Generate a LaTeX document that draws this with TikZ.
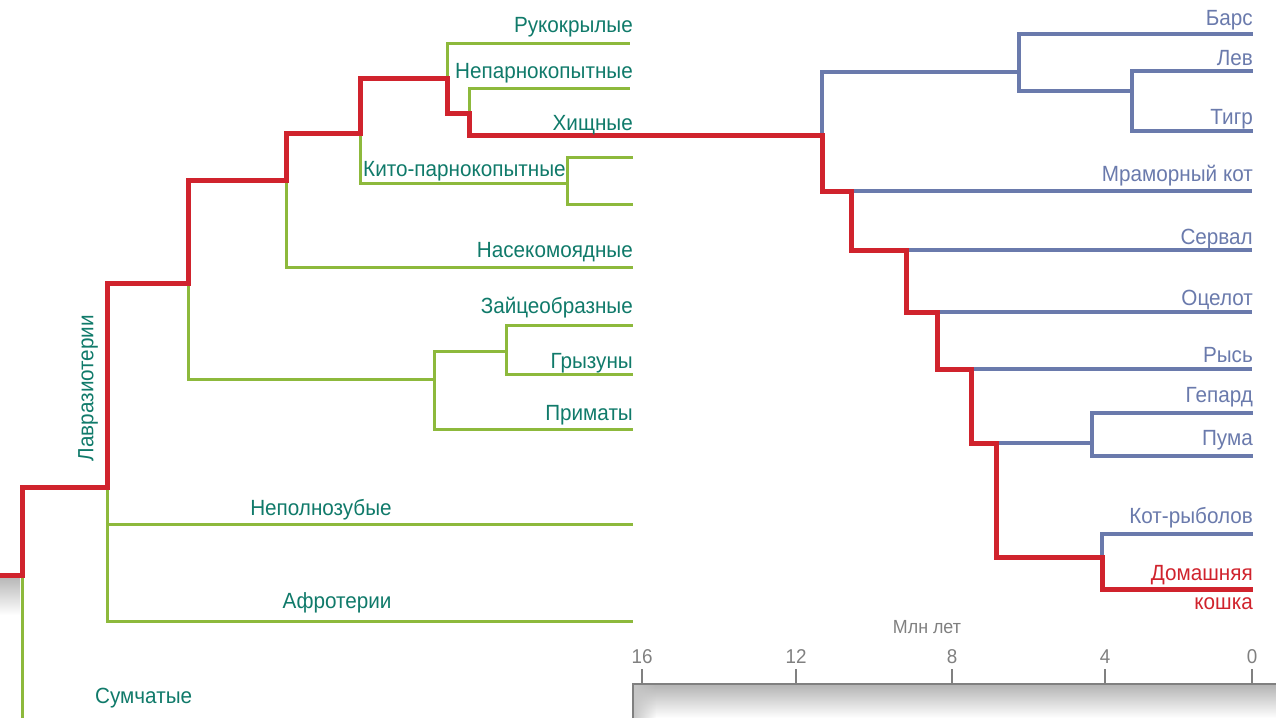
\documentclass[tikz,border=0pt]{standalone}
\usepackage{fontspec}
\setmainfont{Liberation Sans}[FakeStretch=0.94]
\usepackage{xcolor}
\usetikzlibrary{fadings}

\definecolor{leafgreen}{RGB}{141,185,60}
\definecolor{tealtext}{RGB}{16,122,106}
\definecolor{lineagered}{RGB}{208,35,45}
\definecolor{catblue}{RGB}{106,122,172}
\definecolor{scalegray}{RGB}{128,128,128}

\begin{document}
\begin{tikzpicture}[x=1pt, y=-1pt,
    thu/.style={draw=leafgreen, line width=3pt},
    meo/.style={draw=catblue, line width=4pt},
    tien/.style={draw=lineagered, line width=5pt},
    nhan/.style={anchor=base east, inner sep=0pt, text=tealtext,
                 font=\fontsize{22}{26}\selectfont},
    meonhan/.style={nhan, text=catblue},
    so/.style={anchor=base, inner sep=0pt, text=scalegray,
               font=\fontsize{20}{24}\selectfont}]
    \useasboundingbox (0,0) rectangle (1276,718);

    % 1. Nền xám
    \shade[top color=gray!55, bottom color=white] (0,578) rectangle (20,615);
    \shade[top color=gray!60, bottom color=white] (633,684) rectangle (1276,718);
    \fill[gray!45, path fading=east] (633,684) rectangle (656,718);
    \draw[scalegray, line width=2.5pt] (633,718) -- (633,684) -- (1276,684);

    % 2. Các điểm rẽ nhánh
    \coordinate (goc) at (0,575);
    \coordinate (j0) at (22,575);
    \coordinate (sum) at (22,718);
    \coordinate (lav) at (107,487);
    \coordinate (nepl) at (633,524);
    \coordinate (afro) at (633,621);
    \coordinate (j2) at (188,283);
    \coordinate (euarch) at (434,379);
    \coordinate (glires) at (506,351);
    \coordinate (zaic) at (633,325);
    \coordinate (gryz) at (633,374);
    \coordinate (prim) at (633,429);
    \coordinate (j3) at (286,180);
    \coordinate (nasek) at (633,267);
    \coordinate (j4) at (360,133);
    \coordinate (kito) at (567,183);
    \coordinate (kito1) at (633,157);
    \coordinate (kito2) at (633,204);
    \coordinate (j5) at (447,78);
    \coordinate (ruk) at (630,43);
    \coordinate (j6) at (469,113);
    \coordinate (nepar) at (630,88);
    \coordinate (c0) at (822,135);
    \coordinate (pant) at (1019,72);
    \coordinate (bars) at (1253,34);
    \coordinate (levtigr) at (1132,91);
    \coordinate (lev) at (1253,71);
    \coordinate (tigr) at (1253,131);
    \coordinate (c1) at (851,191);
    \coordinate (mram) at (1252,191);
    \coordinate (c2) at (906,250);
    \coordinate (serv) at (1252,250);
    \coordinate (c3) at (937,312);
    \coordinate (ocel) at (1252,312);
    \coordinate (c4) at (971,369);
    \coordinate (rys) at (1252,369);
    \coordinate (c5) at (996,443);
    \coordinate (gepu) at (1092,443);
    \coordinate (gep) at (1253,413);
    \coordinate (puma) at (1253,456);
    \coordinate (c6) at (1102,557);
    \coordinate (ryb) at (1253,534);
    \coordinate (kosh) at (1253,589);

    % 3. Cây các bộ thú
    \draw[thu] (j0) -- (sum);
    \draw[thu] (lav) |- (nepl);
    \draw[thu] (lav) |- (afro);
    \draw[thu] (j2) |- (euarch);
    \draw[thu] (euarch) |- (glires);
    \draw[thu] (euarch) |- (prim);
    \draw[thu] (glires) |- (zaic);
    \draw[thu] (glires) |- (gryz);
    \draw[thu] (j3) |- (nasek);
    \draw[thu] (j4) |- (kito);
    \draw[thu] (kito) |- (kito1);
    \draw[thu] (kito) |- (kito2);
    \draw[thu] (j5) |- (ruk);
    \draw[thu] (j6) |- (nepar);

    % 4. Cây họ mèo
    \draw[meo] (c0) |- (pant);
    \draw[meo] (pant) |- (bars);
    \draw[meo] (pant) |- (levtigr);
    \draw[meo] (levtigr) |- (lev);
    \draw[meo] (levtigr) |- (tigr);
    \draw[meo] (c1) -- (mram);
    \draw[meo] (c2) -- (serv);
    \draw[meo] (c3) -- (ocel);
    \draw[meo] (c4) -- (rys);
    \draw[meo] (c5) -- (gepu);
    \draw[meo] (gepu) |- (gep);
    \draw[meo] (gepu) |- (puma);
    \draw[meo] (c6) |- (ryb);

    % 5. Dòng đỏ tới mèo nhà
    \draw[tien] (goc) -- (j0) |- (lav) |- (j2) |- (j3) |- (j4) |- (j5)
        |- (j6) |- (c0) |- (c1) |- (c2) |- (c3) |- (c4) |- (c5) |- (c6)
        |- (kosh);

    % 6. Nhãn
    \node[nhan] (lruk) at (633,32) {Рукокрылые};
    \node[nhan] (lnepar) at (633,78) {Непарнокопытные};
    \node[nhan] (lhish) at (633,130) {Хищные};
    \node[nhan, anchor=base west] (lkito) at (363,176) {Кито-парнокопытные};
    \node[nhan] (lnasek) at (633,257) {Насекомоядные};
    \node[nhan] (lzaic) at (633,313) {Зайцеобразные};
    \node[nhan] (lgryz) at (633,368) {Грызуны};
    \node[nhan] (lprim) at (633,420) {Приматы};
    \node[nhan, anchor=base] (lnepl) at (321,515) {Неполнозубые};
    \node[nhan, anchor=base] (lafro) at (337,608) {Афротерии};
    \node[nhan, anchor=base west] (lsum) at (95,703) {Сумчатые};
    \node[nhan, anchor=center, rotate=90] (llav) at (88,388) {Лавразиотерии};

    \node[meonhan] (lbars) at (1253,25) {Барс};
    \node[meonhan] (llev) at (1253,65) {Лев};
    \node[meonhan] (ltigr) at (1253,124) {Тигр};
    \node[meonhan] (lmram) at (1253,181) {Мраморный кот};
    \node[meonhan] (lserv) at (1253,244) {Сервал};
    \node[meonhan] (locel) at (1253,305) {Оцелот};
    \node[meonhan] (lrys) at (1253,362) {Рысь};
    \node[meonhan] (lgep) at (1253,402) {Гепард};
    \node[meonhan] (lpuma) at (1253,445) {Пума};
    \node[meonhan] (lryb) at (1253,523) {Кот-рыболов};
    \node[nhan, text=lineagered, align=right] (lkosh) at (1253,609)
        {Домашняя\\[3pt]кошка};

    % 7. Thang thời gian
    \node[so, font=\fontsize{19}{22}\selectfont] (mln) at (927,633) {Млн лет};
    \foreach \t/\x in {16/642,12/796,8/952,4/1105,0/1252} {
        \draw[scalegray, line width=2pt] (\x,684) -- (\x,669);
        \node[so] (t\t) at (\x,663) {\t};
    }
\end{tikzpicture}
\end{document}
